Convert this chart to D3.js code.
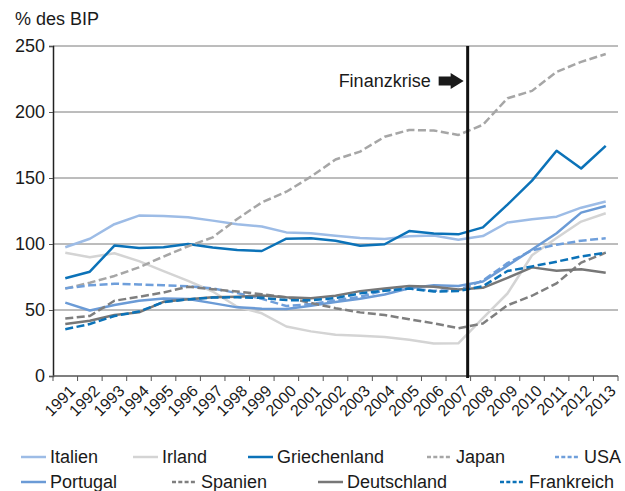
<!DOCTYPE html>
<html>
<head>
<meta charset="utf-8">
<script src="https://cdn.jsdelivr.net/npm/d3@7"></script>
<style>
  html, body { margin: 0; padding: 0; background: #fff; }
  svg { display: block; font-family: "Liberation Sans", Arial, Helvetica, sans-serif; }
</style>
</head>
<body>
<svg id="chart" width="625" height="491"></svg>
<script>
// Staatsverschuldung in % des BIP, 1991–2013
const years = d3.range(1991, 2014);
const yTicks = [0, 50, 100, 150, 200, 250];

const italien      = [97.5, 104, 115, 121.5, 121.2, 120.3, 117.7, 114.9, 113.2, 108.8, 108.2, 106.3, 104.5, 103.7, 105.8, 106.4, 103.2, 106, 116.3, 118.8, 120.7, 127.5, 132.2];
const irland       = [93.4, 90, 93, 87, 79.5, 72, 64, 52.5, 47.5, 37.5, 33.8, 31.3, 30.5, 29.5, 27.5, 24.6, 24.8, 43.8, 62.5, 91.5, 104.5, 117, 123.3];
const griechenland = [74, 79, 98.8, 97, 97.5, 100, 97.3, 95.5, 94.7, 104, 104.4, 102.5, 98.6, 99.8, 109.8, 108, 107.3, 112.6, 129.8, 148, 170.6, 157.2, 174.3];
const japan        = [66.2, 70.7, 75.8, 82.3, 90.5, 98.3, 105, 119, 131.5, 139.6, 151, 164, 170, 181.2, 186.4, 186, 182.6, 190.3, 210.4, 216, 230.4, 238, 243.9];
const usa          = [66.4, 68.7, 69.9, 69.4, 68.7, 68, 66.4, 62.8, 58.5, 53, 54.5, 57.3, 60, 65, 66.3, 64.6, 65, 72.3, 85.5, 95.2, 99.5, 102.5, 104.3];
const portugal     = [55.6, 49.6, 53.8, 57, 58.8, 58.3, 55.2, 52, 51, 50.8, 53.3, 56, 58.5, 61.8, 66.5, 68.8, 68.2, 71.6, 83.6, 95.8, 108.2, 123.8, 128.8];
const spanien      = [43.6, 45.5, 57, 60, 63.3, 67.6, 65.8, 64, 62, 59.6, 55.3, 51.4, 48.2, 46.2, 43, 39.9, 36.2, 39.8, 53.6, 60.8, 70.2, 85.9, 93.4];
const deutschland  = [39.4, 41.9, 46.2, 48.2, 56.2, 58.1, 59.6, 60.1, 61, 59.6, 58.9, 60.8, 64.3, 66.3, 68.2, 67.7, 65.6, 66.8, 74.3, 82.3, 79.8, 80.8, 78.3];
const frankreich   = [35.4, 39.4, 45.5, 48.8, 56, 58, 59.5, 59.6, 59.2, 57.5, 57.3, 59, 62.6, 64.6, 66.2, 64, 64.4, 68, 79.5, 83, 86.6, 90.6, 93.4];

const seriesNames  = ["Italien", "Irland", "Griechenland", "Japan", "USA", "Portugal", "Spanien", "Deutschland", "Frankreich"];
const seriesValues = [italien, irland, griechenland, japan, usa, portugal, spanien, deutschland, frankreich];
const seriesColors = ["#9dbce6", "#d4d4d4", "#0b72b8", "#a6a6a6", "#6f9fdb", "#6b9bd6", "#7f7f7f", "#777777", "#0b72b8"];
const seriesDashed = [false, false, false, true, true, false, true, false, true];

const crisisLabel = "Finanzkrise";
const crisisOffset = 0.38;   // Bruchteil des Jahresabstands nach 2007

const svg = d3.select("#chart");
const plotLeft = 53, plotRight = 618, plotTop = 46, plotBottom = 376;

const x = d3.scalePoint().domain(years).range([plotLeft, plotRight]).padding(0.5);
const step = x.step();
const y = d3.scaleLinear().domain([0, 250]).range([plotBottom, plotTop]);

// Gitternetz
svg.append("g")
  .selectAll("line")
  .data(yTicks.filter(d => d > 0))
  .join("line")
  .attr("x1", plotLeft).attr("x2", plotRight)
  .attr("y1", d => y(d)).attr("y2", d => y(d))
  .attr("stroke", "#7a7a7a").attr("stroke-width", 1);

// y-Achse
const yAxis = svg.append("g")
  .attr("transform", `translate(${plotLeft},0)`)
  .call(d3.axisLeft(y).tickValues(yTicks).tickSize(4).tickPadding(4));
yAxis.select(".domain").attr("stroke", "#222").attr("stroke-width", 1.5);
yAxis.selectAll(".tick line").attr("stroke", "#555");
yAxis.selectAll(".tick text").attr("font-size", 18).attr("fill", "#1a1a1a")
  .attr("font-family", "Liberation Sans, Arial, sans-serif");

// x-Achse (Teilstriche zwischen den Jahren)
const xAxisG = svg.append("g").attr("transform", `translate(0,${plotBottom})`);
xAxisG.append("line")
  .attr("x1", plotLeft).attr("x2", plotRight).attr("y1", 0).attr("y2", 0)
  .attr("stroke", "#555").attr("stroke-width", 1.5);
xAxisG.selectAll("line.tk")
  .data(d3.range(years.length + 1))
  .join("line").attr("class", "tk")
  .attr("x1", i => plotLeft + i * step).attr("x2", i => plotLeft + i * step)
  .attr("y1", 0).attr("y2", 5)
  .attr("stroke", "#555").attr("stroke-width", 1);
xAxisG.selectAll("text")
  .data(years)
  .join("text")
  .attr("transform", d => `translate(${x(d) + 3},${8}) rotate(-45)`)
  .attr("text-anchor", "end")
  .attr("dy", "0.71em")
  .attr("font-size", 16)
  .attr("fill", "#1a1a1a")
  .text(d => d);

// Linien
const line = d3.line()
  .x((d, i) => x(years[i]))
  .y(d => y(d));

svg.append("g")
  .selectAll("path")
  .data(seriesValues)
  .join("path")
  .attr("d", d => line(d))
  .attr("fill", "none")
  .attr("stroke", (d, i) => seriesColors[i])
  .attr("stroke-width", 2.5)
  .attr("stroke-linejoin", "round")
  .attr("stroke-dasharray", (d, i) => seriesDashed[i] ? "8,3.5" : null);

// Finanzkrise-Markierung
const cx = x(2007) + crisisOffset * step;
svg.append("line")
  .attr("x1", cx).attr("x2", cx)
  .attr("y1", plotTop).attr("y2", plotBottom + 2)
  .attr("stroke", "#111").attr("stroke-width", 3);

svg.append("text")
  .attr("x", cx - 37).attr("y", 87)
  .attr("text-anchor", "end")
  .attr("font-size", 18)
  .attr("fill", "#1a1a1a")
  .text(crisisLabel);

const ax = cx - 29, ay = 81;
svg.append("path")
  .attr("d", `M${ax},${ay - 4.5} L${ax + 12},${ay - 4.5} L${ax + 12},${ay - 8} L${ax + 25},${ay} L${ax + 12},${ay + 8} L${ax + 12},${ay + 4.5} L${ax},${ay + 4.5} Z`)
  .attr("fill", "#1a1a1a");

// Achsentitel
svg.append("text")
  .attr("x", 15).attr("y", 25)
  .attr("font-size", 18)
  .attr("fill", "#1a1a1a")
  .text("% des BIP");

// Legende
const legendRows = [[0, 1, 2, 3, 4], [5, 6, 7, 8]];
const legendX = [[21, 133, 248, 427, 555], [21, 172, 318, 500]];
const legendY = [457, 482];
legendRows.forEach((row, r) => {
  row.forEach((si, k) => {
    const g = svg.append("g").attr("transform", `translate(${legendX[r][k]},${legendY[r]})`);
    g.append("line")
      .attr("x1", 0).attr("x2", 25).attr("y1", 0).attr("y2", 0)
      .attr("stroke", seriesColors[si]).attr("stroke-width", 2.5)
      .attr("stroke-dasharray", seriesDashed[si] ? "4,2.3" : null);
    g.append("text")
      .attr("x", 29).attr("y", 0).attr("dy", "0.35em")
      .attr("font-size", 18)
      .attr("fill", "#1a1a1a")
      .text(seriesNames[si]);
  });
});
</script>
</body>
</html>
